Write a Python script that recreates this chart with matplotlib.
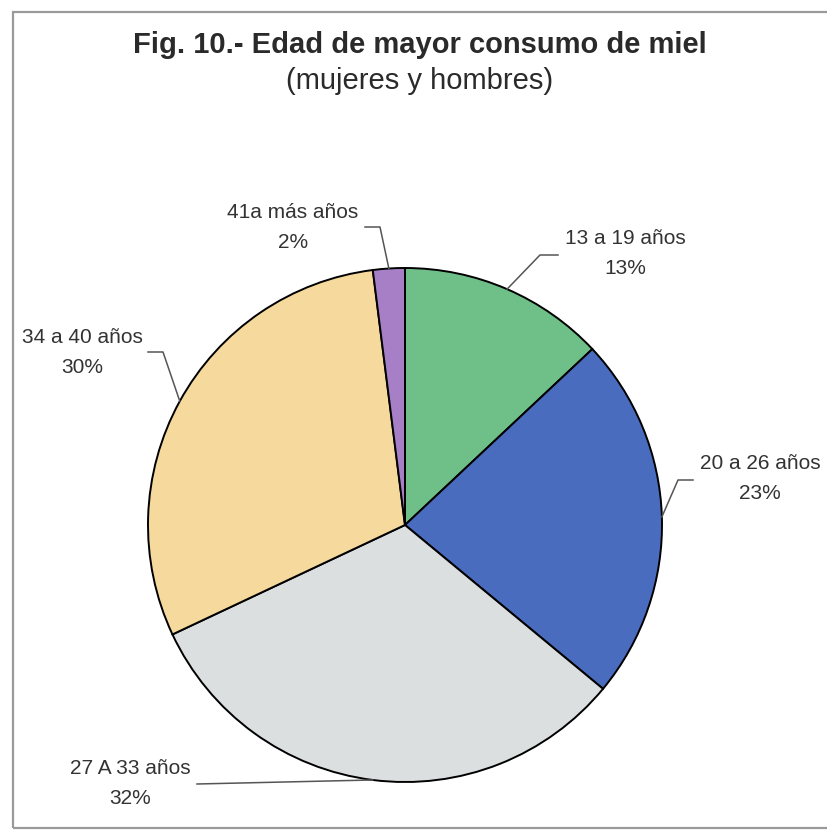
import numpy as np
import matplotlib
matplotlib.use("Agg")
import matplotlib.pyplot as plt
from matplotlib.patches import Rectangle

plt.rcParams['font.family'] = ['Liberation Sans', 'DejaVu Sans']

# datos de la figura
edades = ["13 a 19 años", "20 a 26 años", "27 A 33 años", "34 a 40 años", "41a más años"]
porcentajes = [13, 23, 32, 30, 2]
colores = ["#6fbf88", "#4a6cbf", "#dcdfe0", "#f6d99c", "#a67fc6"]

W, H = 827, 833

# posiciones de las etiquetas (px, origen arriba-izquierda): centro del texto,
# codo del conector y extremo del conector junto al texto
pos_texto = [(625, 238), (760, 463), (130, 768), (82, 337), (293, 212)]
codo = [(540, 255), (678, 480), (197, 784), (163, 352), (380, 227)]
fin_linea = [(558, 255), (693, 480), (197, 784), (148, 352), (365, 227)]

fig = plt.figure(figsize=(W / 100, H / 100), dpi=100)
ax = fig.add_axes([0, 0, 1, 1])

cx, cy, r = 405, 525, 257
wedges, _ = ax.pie(porcentajes, colors=colores, startangle=90, counterclock=False,
                   center=(cx, H - cy), radius=r,
                   wedgeprops=dict(edgecolor="black", linewidth=1.4))

ax.set_xlim(0, W)
ax.set_ylim(0, H)
ax.set_aspect("equal")
ax.axis("off")

# marco
ax.add_patch(Rectangle((13, H - 828), W, 816, fill=False, edgecolor="#9a9a9a", linewidth=1.6))

ax.text(420, H - 45, "Fig. 10.- Edad de mayor consumo de miel", ha="center", va="center",
        fontsize=21, fontweight="bold", color="#2a2a2a")
ax.text(420, H - 81, "(mujeres y hombres)", ha="center", va="center",
        fontsize=21, color="#2a2a2a")

for w, nombre, p, (tx, ty), (ex, ey), (fx, fy) in zip(wedges, edades, porcentajes,
                                                       pos_texto, codo, fin_linea):
    ang = np.deg2rad((w.theta1 + w.theta2) / 2)
    px, py = cx + r * np.cos(ang), (H - cy) + r * np.sin(ang)
    ax.plot([px, ex, fx], [py, H - ey, H - fy], color="#555555", linewidth=1.1, zorder=1)
    ax.text(tx, H - ty, nombre, ha="center", va="center", fontsize=15, color="#333333")
    ax.text(tx, H - ty - 30, f"{p}%", ha="center", va="center", fontsize=15, color="#333333")

fig.savefig("out.png", dpi=100, facecolor="white")
